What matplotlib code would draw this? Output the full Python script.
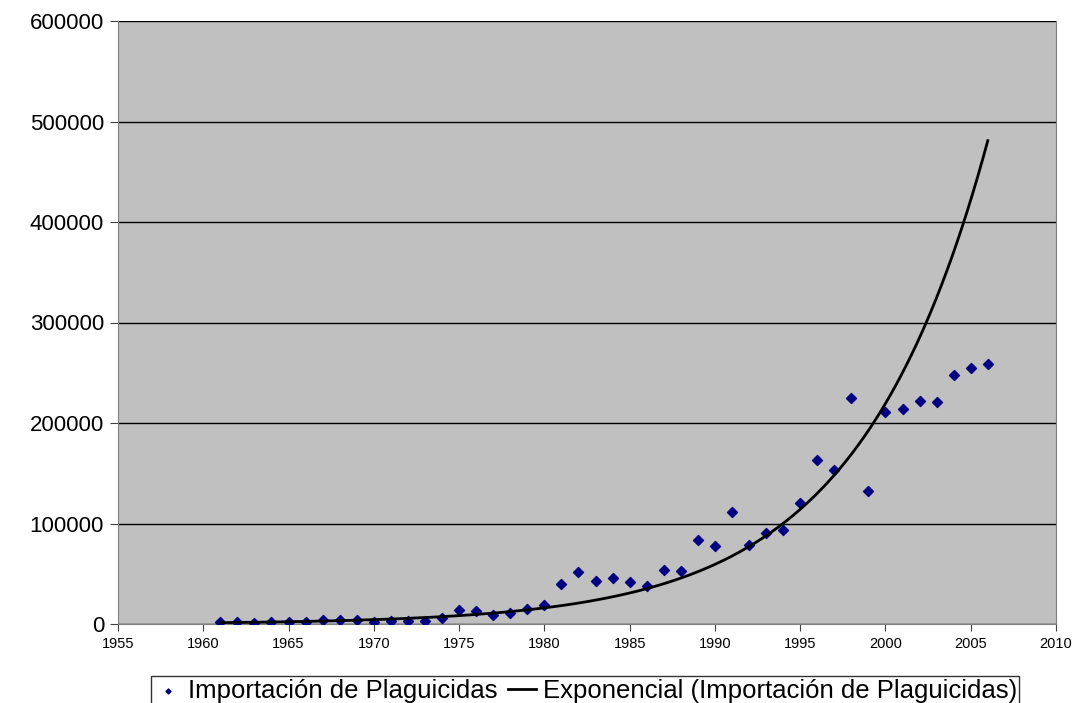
import numpy as np
import matplotlib.pyplot as plt

plt.rcParams['font.family'] = ['Liberation Sans', 'DejaVu Sans']

years = list(range(1961, 2007))
imports = [1500, 1600, 1200, 2300, 1500, 1600, 3800, 3900, 4000, 1700,
           2600, 3300, 3300, 5500, 13900, 12900, 9300, 11300, 15300, 19300,
           40000, 51500, 43000, 45800, 41500, 38100, 53400, 52700, 83300, 77300,
           111100, 78900, 90200, 93200, 120100, 163500, 153200, 225200, 132600, 210600,
           213600, 221900, 220600, 247800, 254400, 258400]

x = np.array(years, dtype=float)
y = np.array(imports, dtype=float)

# exponential trendline, fitted like Excel does (linear fit on ln y)
b, a = np.polyfit(x, np.log(y), 1)
xs = np.linspace(x.min(), x.max(), 300)
ys = np.exp(a + b * xs)

fig = plt.figure(figsize=(10.75, 7.03), dpi=100)
ax = fig.add_axes([118 / 1075, 1 - 624 / 703, (1056 - 118) / 1075, (624 - 21) / 703])
ax.set_facecolor('#c0c0c0')

ax.scatter(x, y, marker='D', s=26, color='#000080', zorder=3,
           label='Importación de Plaguicidas')
ax.plot(xs, ys, color='black', lw=2, zorder=4,
        label='Exponencial (Importación de Plaguicidas)')

ax.set_xlim(1955, 2010)
ax.set_ylim(0, 600000)
ax.set_xticks(range(1955, 2011, 5))
ax.set_yticks(range(0, 600001, 100000))
ax.yaxis.grid(True, color='black', lw=1)
ax.set_axisbelow(True)

ax.spines['top'].set_visible(False)
for s in ['left', 'bottom', 'right']:
    ax.spines[s].set_color('#808080')
ax.tick_params(axis='y', labelsize=16, length=6, color='#404040', pad=4)
ax.tick_params(axis='x', labelsize=10.5, length=5, color='#404040', pad=4)

leg = ax.legend(loc='upper center', bbox_to_anchor=(0.498, -0.0862), ncol=2,
                fontsize=18.5, frameon=True, fancybox=False, edgecolor='black',
                handlelength=1.1, handletextpad=0.25, columnspacing=0.4,
                borderpad=0.1, borderaxespad=0.0, markerscale=0.5)
leg.get_frame().set_linewidth(1)

fig.savefig('out.png', dpi=100)
